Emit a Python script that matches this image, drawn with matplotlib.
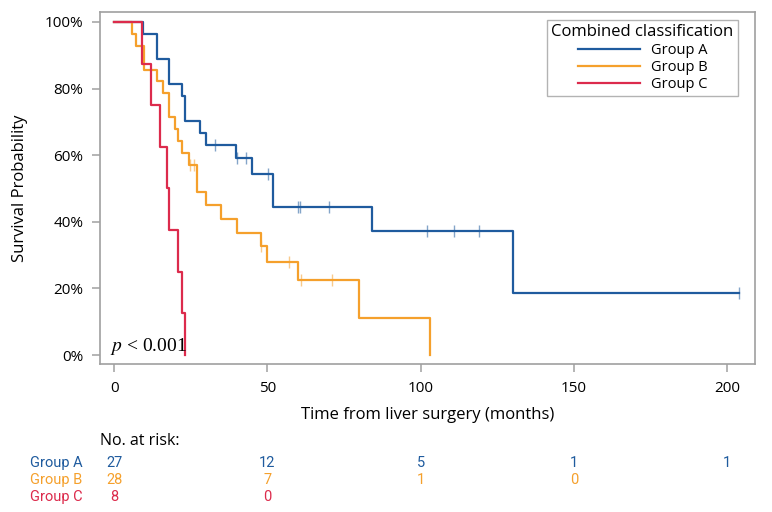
import numpy as np
import matplotlib
matplotlib.use("Agg")
import matplotlib.pyplot as plt
from matplotlib.transforms import blended_transform_factory

plt.rcParams['font.family'] = ['Open Sans', 'DejaVu Sans']
plt.rcParams['mathtext.fontset'] = 'stix'

# event times (months) and status (1 = death, 0 = censored)
a_times = [9.5, 14, 14, 18, 18, 22, 23.2, 23.2, 28, 30, 33, 39.7, 40, 43, 45,
           50.1, 52, 52, 60.1, 60.7, 70, 84, 102, 111, 119, 130, 204]
a_events = [1, 1, 1, 1, 1, 1, 1, 1, 1, 1, 0, 1, 0, 0, 1,
            0, 1, 1, 0, 0, 0, 1, 0, 0, 0, 1, 0]
b_times = [6, 7, 9.9, 9.9, 14, 16, 18, 18, 20, 21, 22, 24.3, 24.8, 26, 27, 27,
           30, 35, 40, 48, 48, 50, 57, 60, 60.9, 71, 80, 103]
b_events = [1, 1, 1, 1, 1, 1, 1, 1, 1, 1, 1, 1, 0, 0, 1, 1,
            1, 1, 1, 1, 0, 1, 0, 1, 0, 0, 1, 1]
c_times = [9, 12, 15, 17.2, 18, 21, 22.1, 23.2]
c_events = [1, 1, 1, 1, 1, 1, 1, 1]

groups = ['Group A', 'Group B', 'Group C']
colors = ['#1f5b9e', '#f5a02c', '#dc2b4c']

risk_times = [0, 50, 100, 150, 200]
risk_a = [27, 12, 5, 1, 1]
risk_b = [28, 7, 1, 0]
risk_c = [8, 0]


def km_curve(times, events):
    t = np.asarray(times, dtype=float)
    e = np.asarray(events)
    xs, ys = [0.0], [1.0]
    cx, cy = [], []
    s = 1.0
    for ut in np.unique(t):
        n = (t >= ut).sum()
        d = ((t == ut) & (e == 1)).sum()
        if d:
            s *= (n - d) / n
        xs.append(ut)
        ys.append(s)
        if ((t == ut) & (e == 0)).sum():
            cx.append(ut)
            cy.append(s)
    return xs, ys, cx, cy


fig = plt.figure(figsize=(7.72, 5.12), dpi=100)
ax = fig.add_axes([100 / 772, 1 - 364 / 512, 655 / 772, 352 / 512])

data = [(a_times, a_events), (b_times, b_events), (c_times, c_events)]
for (t, e), name, col in zip(data, groups, colors):
    xs, ys, cx, cy = km_curve(t, e)
    ax.step(xs, ys, where='post', color=col, lw=1.6, label=name)
    ax.plot(cx, cy, ls='none', marker='|', ms=8, mew=1, color=col, alpha=0.55)

ax.set_xlim(-4.6, 209.1)
ax.set_ylim(-0.027, 1.03)
ax.set_xticks([0, 50, 100, 150, 200])
ax.set_yticks([0, 0.2, 0.4, 0.6, 0.8, 1.0])
ax.set_yticklabels(['0%', '20%', '40%', '60%', '80%', '100%'])
for sp in ax.spines.values():
    sp.set_color('#a0a0a0')
    sp.set_linewidth(1.2)
ax.tick_params(colors='#a0a0a0', labelcolor='black', labelsize=11,
               length=6, width=1.1, pad=6)

ax.set_xlabel('Time from liver surgery (months)', fontsize=12, labelpad=8)
ax.set_ylabel('Survival Probability', fontsize=12, labelpad=12)

ax.text(-1.2, 0.012, r'$p$ < 0.001', fontsize=14, family='Liberation Serif',
        va='baseline', ha='left')

leg = ax.legend(title='Combined classification', loc='upper right',
                bbox_to_anchor=(0.974, 0.977), fancybox=False,
                edgecolor='#a0a0a0', fontsize=10.5, title_fontsize=12,
                handlelength=4.3, handletextpad=0.7, labelspacing=0.15,
                borderpad=0.3, borderaxespad=0)
leg.get_frame().set_linewidth(1.0)

# number at risk table
tr = blended_transform_factory(ax.transData, fig.transFigure)
fig.text(100 / 772, 1 - 441 / 512, 'No. at risk:', fontsize=11.5, va='center')
rows = [risk_a, risk_b, risk_c]
row_y = [463, 480, 497]
for name, col, vals, py in zip(groups, colors, rows, row_y):
    yf = 1 - py / 512
    fig.text(30 / 772, yf, name, fontsize=10.5, color=col, va='center',
             family='Roboto')
    for x, v in zip(risk_times, vals):
        ax.text(x, yf, str(v), transform=tr, fontsize=10.5, color=col,
                ha='center', va='center', family='Roboto')

fig.savefig('out.png', dpi=100)
